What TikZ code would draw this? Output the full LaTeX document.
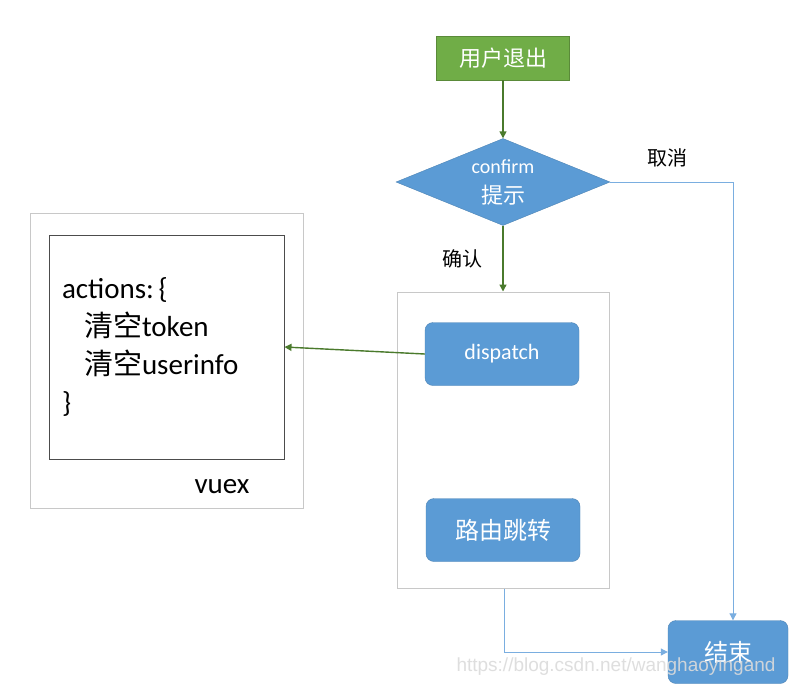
\documentclass[tikz,border=0pt]{standalone}
\usepackage{fontspec}
\setmainfont{Carlito}
\newfontfamily\cjk{Noto Sans CJK SC}
\newfontfamily\wmfont{Liberation Sans}
\usetikzlibrary{shapes.geometric,arrows.meta}
\definecolor{boxblue}{HTML}{5B9BD5}
\definecolor{boxgreen}{HTML}{70AD47}
\definecolor{arrgreen}{HTML}{4A7A2C}
\definecolor{lineblue}{HTML}{7AAEE0}
\definecolor{framegray}{HTML}{C8C8C8}

\tikzset{
  flowbox/.style={draw=boxblue!85!black, fill=boxblue, rounded corners=8pt, text=white,
    minimum width=154pt, minimum height=63pt, inner sep=0pt},
  greenarr/.style={draw=arrgreen, line width=1.4pt, -{Triangle[length=7pt,width=7pt]}},
  bluearr/.style={draw=lineblue, line width=1pt, -{Triangle[length=7pt,width=7pt]}},
  frame/.style={draw=framegray, line width=1pt, minimum width=#1, inner sep=0pt},
}

\begin{document}
\begin{tikzpicture}[x=1pt,y=-1pt]
  \useasboundingbox[fill=white] (0,0) rectangle (810,696);

  % start and decision
  \node[draw=boxgreen!80!black, fill=boxgreen, text=white, minimum width=133pt, minimum height=44pt,
    inner sep=0pt, font=\cjk\fontsize{22}{26}\selectfont] (quit) at (503,58) {用户退出};
  \node[diamond, draw=boxblue!85!black, fill=boxblue, text=white, aspect=2.46, inner sep=0pt,
    minimum width=214pt, minimum height=87pt, align=center, font=\fontsize{20}{30}\selectfont]
    (confirm) at (503,182) {confirm\\{\cjk\fontsize{22}{30}\selectfont 提示}};

  % group with dispatch and routing
  \node[frame=212pt, minimum height=296pt] (group) at (503,440) {};
  \node[flowbox, font=\fontsize{22}{26}\selectfont] (dispatch) at (502,354) {dispatch};
  \node[flowbox, font=\cjk\fontsize{24}{28}\selectfont] (route) at (503,530) {路由跳转};
  \node[flowbox, minimum width=120pt, font=\cjk\fontsize{24}{28}\selectfont] (finish) at (728,652) {结束};

  % vuex store
  \node[frame=273pt, minimum height=295pt] (store) at (166.5,360.5) {};
  \node[draw=black!70, line width=1pt, minimum height=224pt, text width=209pt, inner xsep=13pt,
    align=left, font=\fontsize{29}{38}\selectfont] (code) at (166.5,347)
    {actions:\,\{\\ \hspace*{22pt}{\cjk 清空}token\\ \hspace*{22pt}{\cjk 清空}userinfo\\ \}};
  \node[font=\fontsize{29}{34}\selectfont] (vuex) at (222,487) {vuex};

  % labels
  \node[font=\cjk\fontsize{20}{24}\selectfont] (cancel) at (667,158) {取消};
  \node[font=\cjk\fontsize{20}{24}\selectfont] (ok) at (462,259) {确认};

  % connectors
  \draw[greenarr] (quit) -- (confirm.north);
  \draw[greenarr] (confirm.south) -- (group.north);
  \draw[greenarr] (dispatch.west) -- (code.east);
  \draw[bluearr] (confirm.east) -| (finish.north -| 733,0);
  \draw[bluearr] (group.south -| 504,0) |- (finish.west);

  % watermark
  \node[font=\wmfont\fontsize{19}{22}\selectfont, text=white!72!gray, opacity=0.9] (mark) at (616,667)
    {https://blog.csdn.net/wanghaoyingand};
\end{tikzpicture}
\end{document}
